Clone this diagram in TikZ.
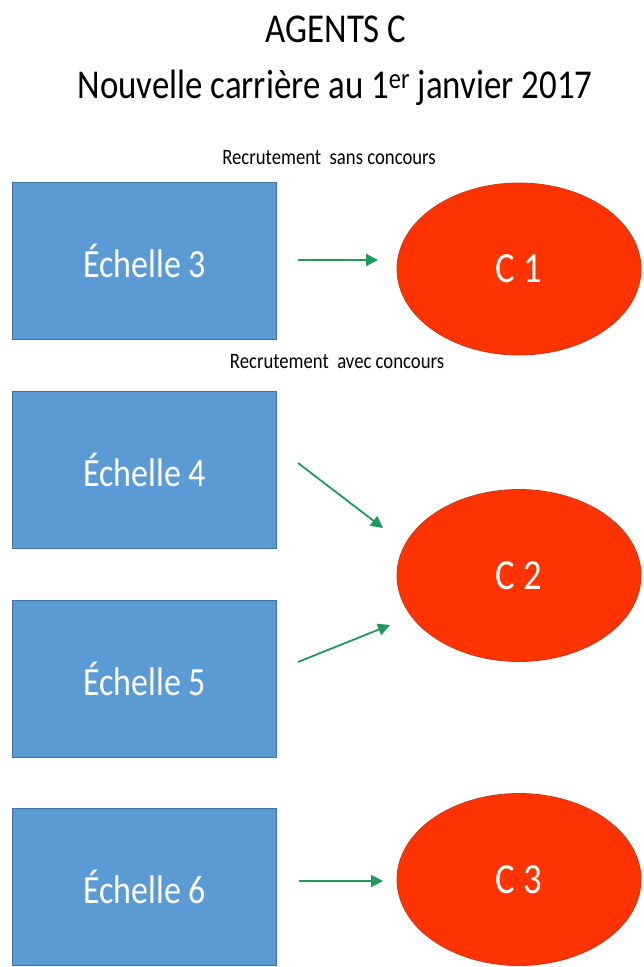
\documentclass[tikz,border=0pt]{standalone}
\usepackage{fontspec}
\setmainfont{Carlito}[FakeStretch=0.85]
\usepackage{xcolor}
\usepackage{tikz}
\usetikzlibrary{arrows.meta}
\usetikzlibrary{shapes.geometric}
\definecolor{echblue}{HTML}{5B9BD5}
\definecolor{echline}{HTML}{41719C}
\definecolor{gradered}{HTML}{FF3300}
\definecolor{gradeline}{HTML}{C8381A}
\definecolor{flowgreen}{HTML}{1E9B5A}
\tikzstyle{echelle}=[rectangle,draw=echline,fill=echblue,line width=1pt,minimum width=264pt,minimum height=157pt,text=white,font=\fontsize{40}{44}\selectfont]
\tikzstyle{grade}  =[ellipse,draw=gradeline,fill=gradered,line width=.8pt,inner sep=0pt,minimum width=244pt,minimum height=172pt,text=white,font=\fontsize{43}{46}\selectfont]
\tikzstyle{flow}   =[draw=flowgreen,line width=1.8pt,-{Triangle[length=12pt,width=12pt]}]
\tikzstyle{heading}=[anchor=base,font=\fontsize{41}{44}\selectfont]
\tikzstyle{recru}  =[font=\fontsize{22}{24}\selectfont]

\begin{document}
\begin{tikzpicture}[x=1pt,y=-1pt]
	\useasboundingbox (0,0) rectangle (643,967);
	\node[heading] (title)    at (336,42) {AGENTS C};
	\node[heading] (subtitle) at (335,98) {Nouvelle carrière au 1\textsuperscript{er} janvier 2017};
	\node[recru] (sans) at (329,158) {Recrutement~~sans concours};
	\node[recru] (avec) at (337,362) {Recrutement~~avec concours};
	% echelles
	\node[echelle] (e3) at (144.5,261)   {Échelle 3};
	\node[echelle] (e4) at (144.5,470)   {Échelle 4};
	\node[echelle] (e5) at (144.5,678.5) {Échelle 5};
	\node[echelle] (e6) at (144.5,886.5) {Échelle 6};
	% grades
	\node[grade] (c1) at (519,269)   {C 1};
	\node[grade] (c2) at (519,575.5) {C 2};
	\node[grade] (c3) at (519,879.5) {C 3};
	% arrows (free ends)
	\coordinate (a3) at (298,260);  \coordinate (b3) at (378,260);
	\coordinate (a4) at (298,463);  \coordinate (b4) at (383,528);
	\coordinate (a5) at (298,662);  \coordinate (b5) at (390,625);
	\coordinate (a6) at (299,881);  \coordinate (b6) at (383,881);
	\draw[flow] (a3) -- (b3);
	\draw[flow] (a4) -- (b4);
	\draw[flow] (a5) -- (b5);
	\draw[flow] (a6) -- (b6);
\end{tikzpicture}
\end{document}
